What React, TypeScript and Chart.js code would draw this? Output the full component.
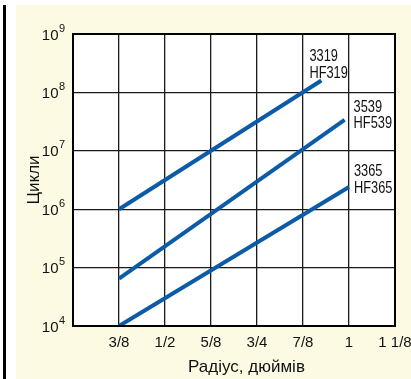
import React, { useEffect, useRef } from "react";
import { Chart, registerables } from "chart.js";

Chart.register(...registerables);

// ---- data ----
const LABEL_LINES: string[][] = [
  ["3319", "HF319"],
  ["3539", "HF539"],
  ["3365", "HF365"],
];
const RADIUS_3319 = [0.375, 0.925];
const CYCLES_3319 = [1e6, 1.6e8];
const RADIUS_3539 = [0.375, 0.988];
const CYCLES_3539 = [6.5e4, 3.4e7];
const RADIUS_3365 = [0.375, 1.0];
const CYCLES_3365 = [1e4, 2.4e6];

const X_TICK_VALUES = [0.375, 0.5, 0.625, 0.75, 0.875, 1, 1.125];
const X_TICK_LABELS = ["3/8", "1/2", "5/8", "3/4", "7/8", "1", "1 1/8"];
const Y_EXPONENTS = [4, 5, 6, 7, 8, 9];

const X_TITLE = "Радіус, дюймів";
const Y_TITLE = "Цикли";

// ---- style ----
const LINE_COLOR = "#0b5ba8";
const FONT = "'Liberation Sans', Arial, sans-serif";
// pixel offsets of the series labels from each line's end point
const LABEL_OFFSETS = [
  { dx: -12, b1: -19, b2: -2 },
  { dx: 9, b1: -8, b2: 8 },
  { dx: 5, b1: -11, b2: 6 },
];

const toPoints = (xs: number[], ys: number[]) => xs.map((x, i) => ({ x, y: ys[i] }));

function condensedText(ctx: any, text: string, x: number, y: number, sx: number) {
  ctx.save();
  ctx.translate(x, y);
  ctx.scale(sx, 1);
  ctx.fillText(text, 0, 0);
  ctx.restore();
}

const framePlugin = {
  id: "frame",
  beforeDraw(chart: any) {
    const { ctx, chartArea: a } = chart;
    ctx.save();
    ctx.fillStyle = "#ffffff";
    ctx.fillRect(a.left, a.top, a.right - a.left, a.bottom - a.top);
    ctx.restore();
  },
  afterDraw(chart: any) {
    const { ctx, chartArea: a } = chart;
    ctx.save();
    ctx.strokeStyle = "#000";
    ctx.lineWidth = 2;
    ctx.strokeRect(a.left, a.top, a.right - a.left, a.bottom - a.top);

    // y tick labels: 10 with superscript exponent
    const ys = chart.scales.y;
    ctx.fillStyle = "#111";
    ctx.textBaseline = "alphabetic";
    Y_EXPONENTS.forEach((e) => {
      const py = ys.getPixelForValue(Math.pow(10, e));
      ctx.font = `15px ${FONT}`;
      ctx.textAlign = "right";
      ctx.fillText("10", a.left - 14.5, py + 5.5);
      ctx.font = `11px ${FONT}`;
      ctx.textAlign = "left";
      ctx.fillText(String(e), a.left - 14, py - 2.5);
    });

    // x axis title (drawn by hand so it can sit where the original puts it)
    ctx.font = `17px ${FONT}`;
    ctx.textAlign = "center";
    ctx.textBaseline = "alphabetic";
    ctx.fillText(X_TITLE, 230.5, 367);

    // series labels at line ends
    ctx.font = `16px ${FONT}`;
    ctx.textAlign = "left";
    chart.data.datasets.forEach((ds: any, i: number) => {
      const meta = chart.getDatasetMeta(i);
      const pt = meta.data[meta.data.length - 1];
      const o = LABEL_OFFSETS[i];
      const lines = LABEL_LINES[i];
      condensedText(ctx, lines[0], pt.x + o.dx, pt.y + o.b1, 0.8);
      condensedText(ctx, lines[1], pt.x + o.dx, pt.y + o.b2, 0.8);
    });
    ctx.restore();
  },
};

export default function App() {
  const ref = useRef<HTMLCanvasElement | null>(null);

  useEffect(() => {
    if (!ref.current) return;
    const mk = (label: string, xs: number[], ys: number[]) => ({
      label,
      data: toPoints(xs, ys),
      borderColor: LINE_COLOR,
      backgroundColor: LINE_COLOR,
      borderWidth: 4,
      borderCapStyle: "butt" as const,
      pointRadius: 0,
      tension: 0,
      fill: false,
    });
    const chart = new Chart(ref.current, {
      type: "line",
      data: {
        datasets: [
          mk(LABEL_LINES[0].join(" "), RADIUS_3319, CYCLES_3319),
          mk(LABEL_LINES[1].join(" "), RADIUS_3539, CYCLES_3539),
          mk(LABEL_LINES[2].join(" "), RADIUS_3365, CYCLES_3365),
        ],
      },
      options: {
        animation: false,
        responsive: false,
        devicePixelRatio: 1,
        layout: { padding: { top: 29, right: 16, left: 0, bottom: 0 } },
        plugins: { legend: { display: false }, tooltip: { enabled: false } },
        scales: {
          x: {
            type: "linear",
            min: 0.25,
            max: 1.125,
            afterFit: (s: any) => {
              s.height = 53;
              s.paddingLeft = 0;
              s.paddingRight = 0;
            },
            afterBuildTicks: (s: any) => {
              s.ticks = [0.25, ...X_TICK_VALUES].map((v) => ({ value: v }));
            },
            ticks: {
              autoSkip: false,
              maxRotation: 0,
              padding: 8,
              color: "#111",
              font: { family: FONT, size: 15 },
              callback: (v: any) => {
                const i = X_TICK_VALUES.findIndex((t) => Math.abs(t - Number(v)) < 1e-6);
                return i >= 0 ? X_TICK_LABELS[i] : "";
              },
            },
            grid: { color: "#1a1a1a", lineWidth: 1.3, drawTicks: false },
            border: { display: false },
            title: { display: false, text: X_TITLE },
          },
          y: {
            type: "logarithmic",
            min: 1e4,
            max: 1e9,
            afterFit: (s: any) => {
              s.width = 57;
              s.paddingTop = 0;
              s.paddingBottom = 0;
            },
            afterBuildTicks: (s: any) => {
              s.ticks = Y_EXPONENTS.map((e) => ({ value: Math.pow(10, e) }));
            },
            ticks: { display: false },
            grid: { color: "#1a1a1a", lineWidth: 1.3, drawTicks: false },
            border: { display: false },
            title: {
              display: true,
              text: Y_TITLE,
              color: "#111",
              font: { family: FONT, size: 17 },
              padding: { top: 8, bottom: 8 },
            },
          },
        },
      },
      plugins: [framePlugin],
    });
    return () => chart.destroy();
  }, []);

  return (
    <div
      style={{
        position: "fixed",
        left: 0,
        top: 0,
        width: 411,
        height: 379,
        background: "#ffffff",
        overflow: "hidden",
      }}
    >
      <div
        style={{
          position: "absolute",
          left: 3,
          top: 5,
          width: 3,
          height: 374,
          background: "#000",
        }}
      />
      <div
        style={{
          position: "absolute",
          left: 16,
          top: 5,
          width: 395,
          height: 374,
          background: "#fdfae4",
        }}
      >
        <canvas ref={ref} width={395} height={374} style={{ display: "block" }} />
      </div>
    </div>
  );
}
